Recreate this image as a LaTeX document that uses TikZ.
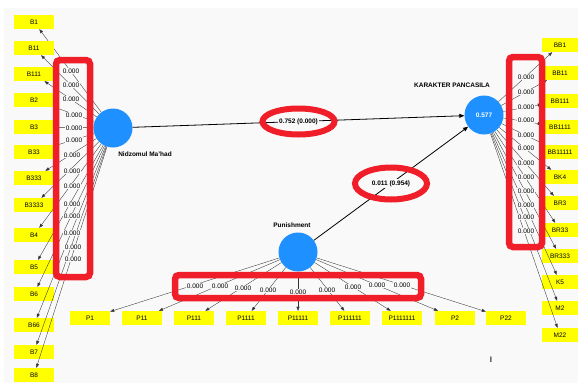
\documentclass[tikz,border=0pt]{standalone}
\usepackage{fontspec}
\setmainfont{Liberation Sans}
\usetikzlibrary{arrows.meta}
\definecolor{lvblue}{RGB}{30,144,255}
\definecolor{hlred}{RGB}{240,30,40}
\definecolor{indyellow}{RGB}{255,255,0}
\definecolor{canvas}{RGB}{249,249,249}
\begin{document}
\begin{tikzpicture}[x=1pt,y=-1pt,
  ind/.style={fill=indyellow,minimum width=40pt,minimum height=14pt,inner sep=0pt,font=\fontsize{6.5}{7}\selectfont},
  rind/.style={ind,minimum width=36pt},
  lv/.style={circle,fill=lvblue,minimum size=39pt,inner sep=0pt,text=white,font=\bfseries\fontsize{6.5}{7}\selectfont},
  lvname/.style={font=\bfseries\fontsize{6.5}{7}\selectfont,inner sep=0pt},
  ld/.style={font=\fontsize{6.5}{7}\selectfont,inner sep=0.4pt,fill=canvas},
  ln/.style={draw=black!80,line width=0.35pt,-{Triangle[length=4pt,width=3pt]}},
  pth/.style={draw=black,line width=0.8pt,-{Triangle[length=5pt,width=4pt]}},
  coef/.style={font=\bfseries\fontsize{6.5}{7}\selectfont,fill=canvas,inner sep=1pt},
  hl/.style={draw=hlred,line width=6.5pt,rounded corners=4pt}]
% canvas
\fill[white] (0,0) rectangle (578,383);
\fill[canvas] (4,8) rectangle (578,383);
\useasboundingbox (0,0) rectangle (578,383);

% latent variables
\node[lv] (nm) at (113,128) {};
\node[lvname] (nmname) at (145,154) {Nidzomul Ma'had};
\node[lv] (kp) at (484,115) {0.577};
\node[lvname] (kpname) at (452,85) {KARAKTER PANCASILA};
\node[lv] (pn) at (298,252) {};
\node[lvname] (pnname) at (292,225) {Punishment};

% indicators
\foreach \n/\y in {B1/22,B11/48,B111/74,B2/100,B3/127,B33/152,B333/178,B3333/205,B4/235,B5/267,B6/294,B66/325,B7/352,B8/375}
{
  \node[ind] (\n) at (34,\y) {\n};
  \draw[ln] (nm) -- (\n);
}
\foreach \n/\y in {BB1/45,BB11/73,BB111/101,BB1111/127,BB11111/152,BK4/177,BR3/203,BR33/230,BR333/256,K5/282,M2/308,M22/335}
{
  \node[rind] (\n) at (560,\y) {\n};
  \draw[ln] (kp) -- (\n);
}
\foreach \n/\x in {P1/90,P11/142,P111/194,P1111/246,P11111/298,P111111/350,P1111111/402,P2/455,P22/506}
{
  \node[ind] (\n) at (\x,318) {\n};
  \draw[ln] (pn) -- (\n);
}

% loadings
\foreach \x/\y [count=\i] in {71/71,71/85,71/99,74/115,74/128,74/140,72/155,72/171,72/186,72/204,72/216,72/233,73/247,73/259}
  \node[ld] (ll\i) at (\x,\y) {0.000};
\foreach \y [count=\i] in {77,92,107,120,135,148,163,177,191,205,217,231}
  \node[ld] (rl\i) at (526,\y) {0.000};
\foreach \x/\y [count=\i] in {195/286,220/286,243/288,268/290,298/292,327/290,353/287,377/285,402/285}
  \node[ld] (bl\i) at (\x,\y) {0.000};

% structural paths
\draw[pth] (nm) -- node[coef,pos=0.5] (c1) {0.752 (0.000)} (kp);
\draw[pth] (pn) -- node[coef,pos=0.5] (c2) {0.011 (0.954)} (kp);

% highlights
\draw[hl] (56,60) rectangle (90,277);
\draw[hl] (509,57) rectangle (542,247);
\draw[hl] (175,275) rectangle (421,298);
\draw[hlred,line width=6pt] (c1) ellipse [x radius=36pt,y radius=13pt];
\draw[hlred,line width=6pt] (c2) ellipse [x radius=36pt,y radius=16pt];

\node[font=\bfseries\fontsize{8}{9}\selectfont,text=black!80,inner sep=0pt] (cursor) at (491,360) {I};
\end{tikzpicture}
\end{document}
